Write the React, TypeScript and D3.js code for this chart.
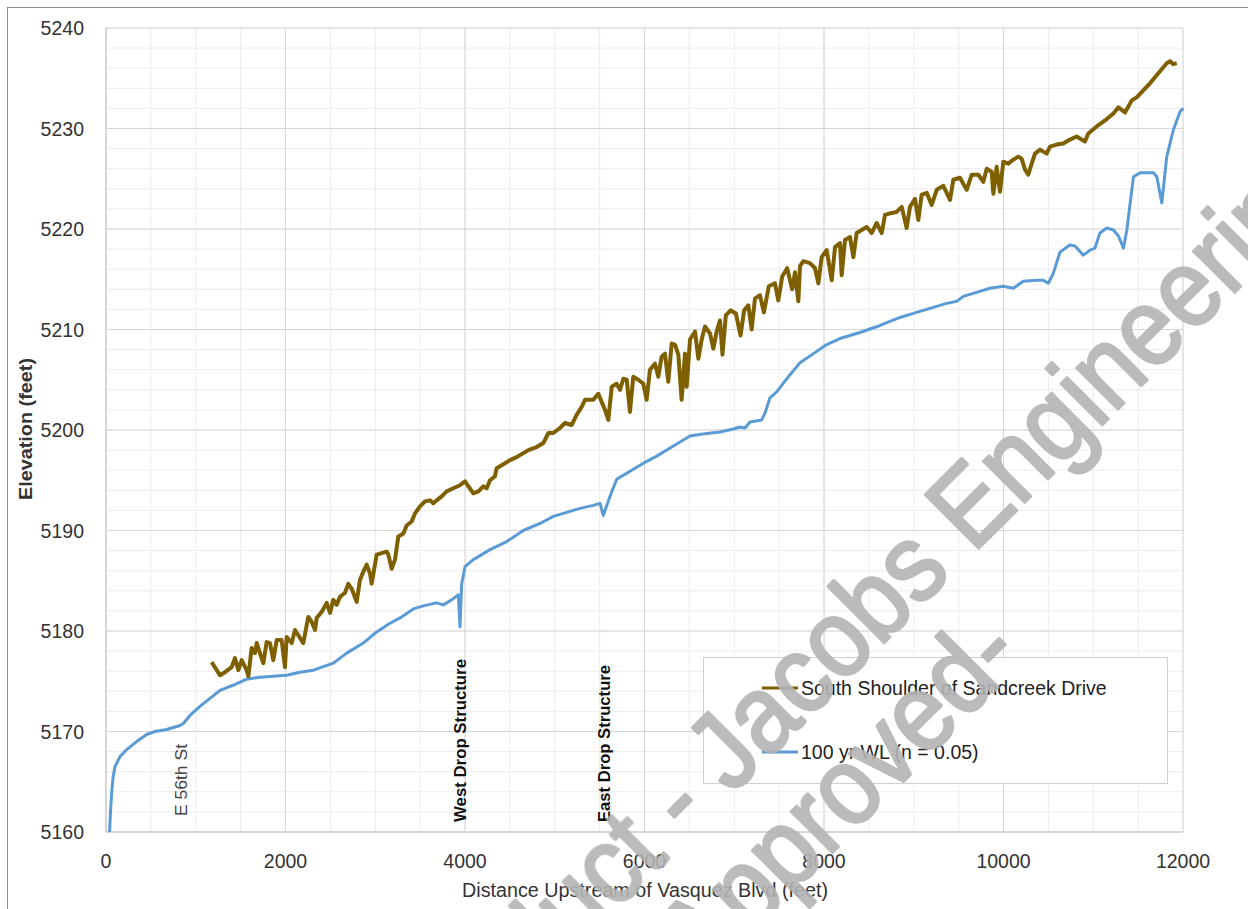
import React from "react";
import * as d3 from "d3";

const X_TICKS = [0, 2000, 4000, 6000, 8000, 10000, 12000];
const Y_TICKS = [5160, 5170, 5180, 5190, 5200, 5210, 5220, 5230, 5240];

const SERIES_NAMES = ["South Shoulder of Sandcreek Drive", "100 yr WL (n = 0.05)"];

const shoulder: [number, number][] = [
  [1177, 5176.9], [1270, 5175.6], [1326, 5175.9], [1400, 5176.4], [1437, 5177.3], [1475, 5176.1], [1512, 5177.1],
  [1567, 5176.1], [1586, 5175.5], [1623, 5178.3], [1660, 5177.8], [1679, 5178.8], [1716, 5177.8], [1753, 5176.8],
  [1790, 5178.9], [1827, 5178.8], [1864, 5177.1], [1902, 5179.1], [1957, 5179.1], [1994, 5176.4], [2013, 5179.4],
  [2069, 5178.8], [2106, 5180.1], [2162, 5179.3], [2198, 5178.8], [2254, 5181.4], [2292, 5180.9], [2329, 5180.1],
  [2347, 5181.3], [2403, 5181.9], [2459, 5182.8], [2496, 5181.8], [2533, 5183.1], [2570, 5182.6], [2607, 5183.4],
  [2663, 5183.8], [2700, 5184.7], [2738, 5184.2], [2793, 5182.9], [2830, 5185.1], [2867, 5185.9], [2905, 5186.6],
  [2942, 5185.7], [2960, 5184.7], [3016, 5187.6], [3053, 5187.7], [3127, 5187.9], [3146, 5187.6], [3183, 5186.2],
  [3220, 5187.1], [3257, 5189.4], [3313, 5189.7], [3350, 5190.5], [3406, 5190.9], [3443, 5191.7], [3499, 5192.4],
  [3554, 5192.9], [3610, 5193.0], [3647, 5192.7], [3684, 5193.0], [3740, 5193.4], [3796, 5193.9], [3870, 5194.2],
  [3944, 5194.5], [4000, 5194.9], [4037, 5194.4], [4093, 5193.7], [4149, 5193.9], [4204, 5194.4], [4242, 5194.2],
  [4279, 5195.0], [4334, 5195.4], [4353, 5196.2], [4409, 5196.5], [4501, 5197.0], [4576, 5197.3], [4650, 5197.7],
  [4706, 5198.0], [4799, 5198.3], [4873, 5198.7], [4929, 5199.7], [4984, 5199.7], [5058, 5200.2], [5114, 5200.7],
  [5189, 5200.5], [5244, 5201.5], [5300, 5202.3], [5337, 5203.0], [5430, 5203.0], [5485, 5203.6], [5523, 5202.8],
  [5560, 5202.0], [5597, 5201.0], [5635, 5204.3], [5690, 5204.6], [5727, 5204.0], [5764, 5205.1], [5802, 5205.0],
  [5838, 5201.8], [5875, 5205.3], [5931, 5205.0], [5987, 5204.6], [6024, 5203.0], [6061, 5206.0], [6117, 5206.6],
  [6154, 5205.3], [6191, 5207.3], [6228, 5207.6], [6265, 5204.8], [6303, 5208.6], [6340, 5208.5], [6377, 5207.5],
  [6414, 5203.0], [6451, 5207.6], [6470, 5204.3], [6507, 5209.0], [6563, 5209.8], [6600, 5207.1], [6637, 5209.0],
  [6674, 5210.3], [6730, 5209.6], [6767, 5208.1], [6804, 5209.8], [6841, 5210.9], [6869, 5207.5], [6906, 5211.4],
  [6960, 5211.9], [7018, 5211.6], [7070, 5209.4], [7110, 5211.9], [7157, 5212.4], [7194, 5210.0], [7231, 5213.1],
  [7287, 5213.4], [7330, 5211.7], [7385, 5214.3], [7454, 5214.6], [7491, 5212.9], [7535, 5215.3], [7590, 5216.1],
  [7645, 5214.0], [7677, 5215.7], [7714, 5212.8], [7733, 5216.3], [7770, 5216.8], [7844, 5216.6], [7900, 5216.1],
  [7937, 5214.6], [7974, 5217.2], [8030, 5217.9], [8086, 5214.9], [8123, 5218.2], [8178, 5218.6], [8197, 5215.4],
  [8234, 5218.9], [8290, 5219.2], [8327, 5217.2], [8364, 5219.6], [8420, 5219.9], [8476, 5220.2], [8531, 5219.6],
  [8587, 5220.6], [8643, 5219.6], [8680, 5221.4], [8754, 5221.6], [8810, 5221.7], [8866, 5222.2], [8921, 5220.1],
  [8958, 5222.2], [9014, 5223.0], [9051, 5220.9], [9088, 5223.4], [9144, 5223.6], [9200, 5222.4], [9256, 5223.9],
  [9330, 5224.3], [9404, 5222.9], [9441, 5224.9], [9515, 5225.1], [9590, 5223.9], [9646, 5225.4], [9720, 5225.4],
  [9775, 5224.7], [9813, 5226.0], [9868, 5225.7], [9887, 5223.5], [9924, 5226.2], [9961, 5223.7], [9998, 5226.7],
  [10053, 5226.5], [10109, 5226.9], [10165, 5227.2], [10202, 5227.0], [10240, 5225.9], [10276, 5225.4],
  [10314, 5226.5], [10351, 5227.5], [10407, 5227.9], [10481, 5227.5], [10518, 5228.2], [10592, 5228.4],
  [10666, 5228.5], [10741, 5228.9], [10815, 5229.2], [10871, 5228.9], [10908, 5228.7], [10945, 5229.5],
  [11038, 5230.2], [11131, 5230.8], [11224, 5231.5], [11281, 5232.1], [11354, 5231.6], [11429, 5232.8],
  [11484, 5233.1], [11558, 5233.8], [11632, 5234.5], [11744, 5235.7], [11819, 5236.5], [11856, 5236.7],
  [11892, 5236.4], [11930, 5236.5],
];

const waterLevel: [number, number][] = [
  [40, 5160], [50, 5162], [63, 5163.9], [80, 5165.5], [100, 5166.5], [156, 5167.5], [230, 5168.2], [342, 5169.0],
  [453, 5169.7], [546, 5170.0], [676, 5170.2], [825, 5170.6], [862, 5170.8], [936, 5171.6], [1047, 5172.5],
  [1159, 5173.3], [1270, 5174.1], [1415, 5174.6], [1567, 5175.2], [1716, 5175.4], [1864, 5175.5], [2013, 5175.6],
  [2161, 5175.9], [2310, 5176.1], [2533, 5176.8], [2682, 5177.8], [2867, 5178.8], [3000, 5179.8], [3150, 5180.7],
  [3276, 5181.3], [3424, 5182.2], [3536, 5182.5], [3684, 5182.8], [3758, 5182.6], [3851, 5183.1], [3926, 5183.6],
  [3944, 5180.4], [3963, 5184.7], [4000, 5186.4], [4093, 5187.1], [4279, 5188.1], [4465, 5188.9], [4650, 5190.0],
  [4836, 5190.7], [4984, 5191.4], [5133, 5191.8], [5281, 5192.2], [5430, 5192.5], [5504, 5192.7], [5541, 5191.5],
  [5616, 5193.4], [5690, 5195.1], [5802, 5195.7], [5988, 5196.7], [6136, 5197.4], [6322, 5198.4], [6507, 5199.4],
  [6650, 5199.6], [6841, 5199.8], [6990, 5200.1], [7064, 5200.3], [7120, 5200.2], [7175, 5200.8], [7306, 5201.0],
  [7343, 5201.7], [7398, 5203.2], [7473, 5203.8], [7585, 5205.1], [7733, 5206.7], [7882, 5207.6], [8030, 5208.5],
  [8178, 5209.1], [8401, 5209.7], [8624, 5210.4], [8847, 5211.2], [8995, 5211.6], [9218, 5212.2], [9366, 5212.6],
  [9478, 5212.8], [9552, 5213.3], [9663, 5213.6], [9849, 5214.1], [9998, 5214.3], [10109, 5214.1], [10221, 5214.8],
  [10369, 5214.9], [10443, 5214.9], [10499, 5214.6], [10555, 5215.6], [10629, 5217.7], [10740, 5218.4],
  [10796, 5218.3], [10889, 5217.4], [10964, 5217.9], [11019, 5218.1], [11075, 5219.6], [11150, 5220.1],
  [11225, 5219.9], [11281, 5219.3], [11337, 5218.1], [11374, 5219.9], [11448, 5225.2], [11522, 5225.6],
  [11671, 5225.6], [11708, 5225.2], [11764, 5222.6], [11819, 5227.2], [11894, 5229.9], [11968, 5231.7],
  [12005, 5232.0],
];

const ANNOTATIONS: { x: number; text: string; bold: boolean }[] = [
  { x: 840, text: "E 56th St", bold: false },
  { x: 3944, text: "West Drop Structure", bold: true },
  { x: 5549, text: "East Drop Structure", bold: true },
];

const W = 1248;
const H = 909;
const L = 106, R = 1183, T = 28, B = 832;
const FONT = "'Liberation Sans', Arial, sans-serif";
const BROWN = "#7f6000";
const BLUE = "#5b9bd5";
const WM = "#b4b4b4";

export default function App() {
  const x = d3.scaleLinear().domain([0, 12000]).range([L, R]);
  const y = d3.scaleLinear().domain([5160, 5240]).range([B, T]);
  const line = d3
    .line<[number, number]>()
    .x((d) => x(d[0]))
    .y((d) => y(d[1]));

  const xMinor = d3.range(0, 12001, 500);
  const yMinor = d3.range(5160, 5241, 2);

  return (
    <svg
      width={W}
      height={H}
      style={{ position: "absolute", left: 0, top: 0, background: "#fff" }}
      fontFamily={FONT}
    >
      <rect x={0} y={0} width={W} height={H} fill="#fff" />
      <rect x={7.5} y={7.5} width={1400} height={1200} fill="#fff" stroke="#8c8c8c" strokeWidth={1} />

      {/* minor grid */}
      {xMinor.map((v) => (
        <line key={"xm" + v} x1={x(v)} x2={x(v)} y1={T} y2={B} stroke="#ececec" strokeWidth={1} />
      ))}
      {yMinor.map((v) => (
        <line key={"ym" + v} x1={L} x2={R} y1={y(v)} y2={y(v)} stroke="#ececec" strokeWidth={1} />
      ))}
      {/* major grid */}
      {X_TICKS.map((v) => (
        <line key={"xg" + v} x1={x(v)} x2={x(v)} y1={T} y2={B} stroke="#d6d6d6" strokeWidth={1} />
      ))}
      {Y_TICKS.map((v) => (
        <line key={"yg" + v} x1={L} x2={R} y1={y(v)} y2={y(v)} stroke="#d6d6d6" strokeWidth={1} />
      ))}
      <line x1={L} x2={L} y1={T} y2={B} stroke="#c8c8c8" />
      <line x1={L} x2={R} y1={B} y2={B} stroke="#c8c8c8" />

      {/* tick labels */}
      {Y_TICKS.map((v) => (
        <text key={"yt" + v} x={84} y={y(v)} dy="0.36em" textAnchor="end" fontSize={19.5} fill="#333">
          {v}
        </text>
      ))}
      {X_TICKS.map((v) => (
        <text key={"xt" + v} x={x(v)} y={868} textAnchor="middle" fontSize={19.5} fill="#333">
          {v}
        </text>
      ))}

      {/* axis titles */}
      <text
        transform={`translate(32,429) rotate(-90)`}
        textAnchor="middle"
        fontSize={19}
        fontWeight="bold"
        fill="#333"
        textLength={142}
        lengthAdjust="spacingAndGlyphs"
      >
        Elevation (feet)
      </text>
      <text x={645} y={897} textAnchor="middle" fontSize={20} fill="#333" textLength={366} lengthAdjust="spacingAndGlyphs">
        Distance Upstream of Vasquez Blvd (feet)
      </text>

      {/* annotations */}
      {ANNOTATIONS.map((a) => (
        <text
          key={a.text}
          transform={`translate(${x(a.x) + 6},${a.bold ? 822 : 816}) rotate(-90)`}
          fontSize={17}
          fontWeight={a.bold ? "bold" : "normal"}
          fill={a.bold ? "#111" : "#444"}
          textLength={a.bold ? (a.text.startsWith("West") ? 163 : 157) : 72}
          lengthAdjust="spacingAndGlyphs"
        >
          {a.text}
        </text>
      ))}

      {/* series */}
      <path d={line(waterLevel) || ""} fill="none" stroke={BLUE} strokeWidth={3} strokeLinejoin="round" />
      <path d={line(shoulder) || ""} fill="none" stroke={BROWN} strokeWidth={4} strokeLinejoin="round" />

      {/* legend */}
      <rect x={703.5} y={657.5} width={464} height={126} fill="#fff" stroke="#cfcfcf" />
      {[BROWN, BLUE].map((c, i) => (
        <g key={c}>
          <line x1={762} x2={798} y1={688 + i * 64} y2={688 + i * 64} stroke={c} strokeWidth={3} />
          <text x={801} y={688 + i * 64} dy="0.35em" fontSize={19.5} fill="#222">
            {SERIES_NAMES[i]}
          </text>
        </g>
      ))}

      {/* watermark */}
      <g fill={WM} stroke={WM} strokeWidth={3} strokeLinejoin="round" opacity={0.9} fontSize={110} fontFamily={FONT}>
        <text transform="translate(689,838) rotate(-45) scale(0.9,1)" textAnchor="end">
          Product{"\u00a0"}
        </text>
        <text transform="translate(689,838) rotate(-45) scale(0.9,1)">- Jacobs Engineering</text>
        <text transform="translate(1026,659) rotate(-45) scale(0.9,1)" textAnchor="end">
          Approved-
        </text>
      </g>
    </svg>
  );
}
